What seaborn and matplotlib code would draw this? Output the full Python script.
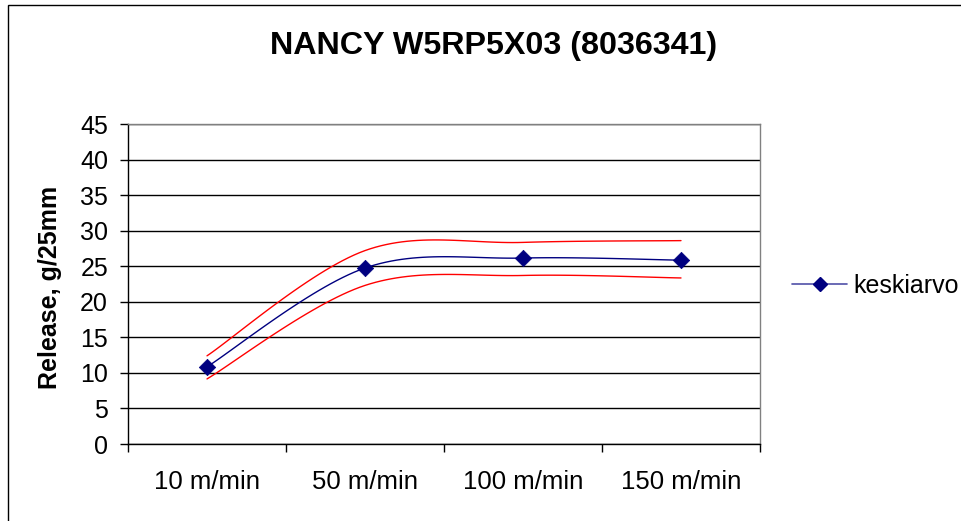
import numpy as np
import pandas as pd
import matplotlib
matplotlib.use("Agg")
import matplotlib.pyplot as plt
import seaborn as sns
from matplotlib.lines import Line2D
from matplotlib.patches import Rectangle

# ---- data ----
categories = ["10 m/min", "50 m/min", "100 m/min", "150 m/min"]
keskiarvo = [10.85, 24.75, 26.15, 25.85]
upper = [12.4, 27.2, 28.35, 28.6]
lower = [9.15, 22.3, 23.7, 23.35]
title = "NANCY W5RP5X03 (8036341)"
ylabel = "Release, g/25mm"
legend_label = "keskiarvo"


def smooth(y, n=30):
    """Excel-style smoothed line (Catmull-Rom / Bezier with 1/6 tangents)."""
    y = np.asarray(y, float)
    x = np.arange(len(y), dtype=float)
    xs, ys = [], []
    for i in range(len(y) - 1):
        p0 = max(i - 1, 0)
        p3 = min(i + 2, len(y) - 1)
        P0 = np.array([x[i], y[i]])
        P3 = np.array([x[i + 1], y[i + 1]])
        C1 = P0 + (np.array([x[i + 1], y[i + 1]]) - np.array([x[p0], y[p0]])) / 6
        C2 = P3 - (np.array([x[p3], y[p3]]) - np.array([x[i], y[i]])) / 6
        t = np.linspace(0, 1, n, endpoint=(i == len(y) - 2))
        b = ((1 - t) ** 3)[:, None] * P0 + (3 * (1 - t) ** 2 * t)[:, None] * C1 \
            + (3 * (1 - t) * t ** 2)[:, None] * C2 + (t ** 3)[:, None] * P3
        xs.append(b[:, 0])
        ys.append(b[:, 1])
    return np.concatenate(xs), np.concatenate(ys)


sns.set_theme(style="white")
plt.rcParams["font.family"] = ["Liberation Sans", "DejaVu Sans"]
plt.rcParams["text.color"] = "black"
plt.rcParams["xtick.color"] = "black"
plt.rcParams["ytick.color"] = "black"
plt.rcParams["xtick.labelcolor"] = "black"
plt.rcParams["ytick.labelcolor"] = "black"

fig = plt.figure(figsize=(9.61, 5.21), dpi=100)
fig.patch.set_facecolor("white")
fig.add_artist(Rectangle((8 / 961, -0.05), 1.2, 1 - 5 / 521 + 0.05,
                         transform=fig.transFigure, fill=False,
                         edgecolor="black", lw=1.0))

ax = fig.add_axes([128 / 961, (521 - 444) / 521, (760 - 128) / 961, 320 / 521])

navy = "#000080"
for vals, col in [(upper, "#ff0000"), (lower, "#ff0000"), (keskiarvo, navy)]:
    sx, sy = smooth(vals)
    sns.lineplot(x=sx, y=sy, ax=ax, color=col, lw=1.0, sort=False,
                 estimator=None, legend=False)

sns.scatterplot(x=np.arange(len(keskiarvo)), y=keskiarvo, ax=ax, marker="D",
                s=70, color=navy, edgecolor=navy, linewidth=0.5, legend=False,
                zorder=5)

ax.set_xlim(-0.5, len(categories) - 0.5)
ax.set_ylim(0, 45)
ax.set_yticks(np.arange(0, 46, 5))
ax.yaxis.grid(True, color="black", lw=1.0)
ax.xaxis.grid(False)
ax.set_axisbelow(True)

ax.set_xticks(np.arange(-0.5, len(categories), 1.0))
ax.set_xticklabels([])
ax.set_xticks(np.arange(len(categories)), minor=True)
ax.set_xticklabels(categories, minor=True)
ax.tick_params(axis="x", which="major", direction="out", length=6, width=1,
               color="black", bottom=True)
ax.tick_params(axis="x", which="minor", length=0, pad=19, labelsize=18.5,
               bottom=True, labelcolor="black")
ax.tick_params(axis="y", direction="out", length=5.8, width=1, color="black",
               pad=8.6, labelsize=18, left=True, labelcolor="black")

for s in ["left", "bottom"]:
    ax.spines[s].set_color("black")
    ax.spines[s].set_linewidth(1.0)
for s in ["top", "right"]:
    ax.spines[s].set_color("#808080")
    ax.spines[s].set_linewidth(1.0)
ax.set_xlabel("")
ax.set_ylabel("")

fig.text(50 / 961, 1 - 287 / 521, ylabel, rotation=90, ha="center",
         va="center", fontsize=18, fontweight="bold", color="black")
fig.text(494 / 961, 1 - 46 / 521, title, ha="center", va="center",
         fontsize=23.2, fontweight="bold", color="black")

handle = Line2D([0], [0], color="#5050a8", lw=1.2, marker="D", markersize=7,
                markerfacecolor=navy, markeredgecolor=navy)
leg = fig.legend([handle], [legend_label], loc="center left",
                 bbox_to_anchor=(792 / 961, 1 - 286 / 521), frameon=False,
                 fontsize=18, handlelength=2.2, handletextpad=0.25,
                 borderpad=0, borderaxespad=0)
for t in leg.get_texts():
    t.set_color("black")

fig.savefig("out.png", dpi=100, facecolor="white")
